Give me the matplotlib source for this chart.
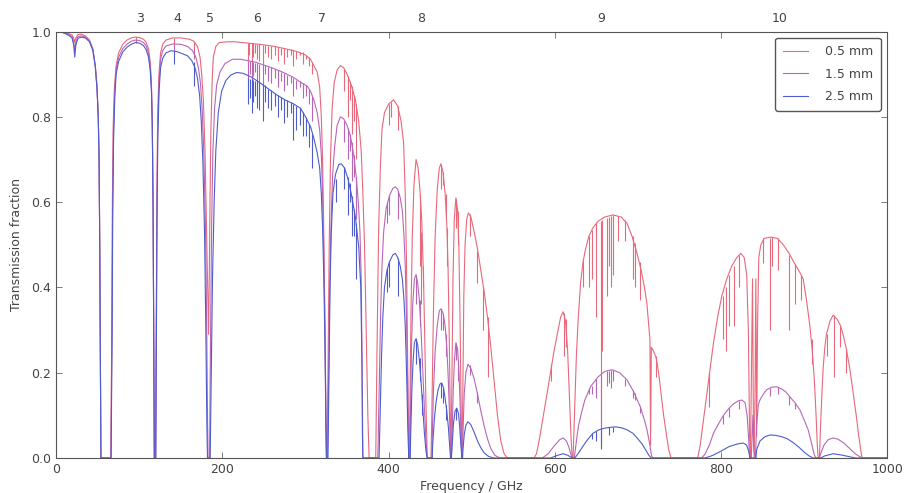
import numpy as np
import matplotlib
matplotlib.use("Agg")
import matplotlib.pyplot as plt

# ----- data: atmospheric transmission -----
# (frequency GHz, transmission) envelope points for each PWV
curve_05 = [
    (0, 1.0), (5, 0.999), (10, 0.998), (15, 0.995), (19, 0.992), (21, 0.985), (22.2, 0.975), (23.5, 0.985),
    (26, 0.993), (30, 0.994), (35, 0.99), (40, 0.98), (44, 0.96), (47, 0.92), (49, 0.87), (50.5, 0.80),
    (51.5, 0.70), (52.3, 0.50), (53, 0.25), (53.7, 0.0), (65.5, 0.0),
    (66.8, 0.3), (67.5, 0.6), (68.5, 0.78), (70, 0.87), (72, 0.92), (75, 0.95), (80, 0.97), (85, 0.98),
    (90, 0.985), (95, 0.987), (100, 0.986), (105, 0.982), (108, 0.975), (111, 0.96), (113, 0.93),
    (114.5, 0.88), (115.5, 0.80), (116.5, 0.60), (117.3, 0.30), (118, 0.0), (119.5, 0.0),
    (120.3, 0.3), (121, 0.6), (122, 0.8), (123.5, 0.9), (125.5, 0.95), (128, 0.97), (132, 0.98), (140, 0.985),
    (150, 0.985), (160, 0.982), (165, 0.978), (170, 0.965), (173, 0.94), (175, 0.90), (177, 0.84), (179, 0.72),
    (181, 0.52), (182.5, 0.36), (183.3, 0.29), (184, 0.40), (185, 0.60), (186, 0.76), (187.5, 0.88), (189, 0.94),
    (192, 0.965), (196, 0.974), (205, 0.976), (215, 0.976), (230, 0.973), (245, 0.97), (260, 0.966), (275, 0.96),
    (290, 0.953), (300, 0.945), (306, 0.935), (310, 0.92), (314, 0.905), (317, 0.87), (319, 0.80), (320.5, 0.70),
    (322, 0.52), (323.5, 0.30), (324.5, 0.1), (325.2, 0.0), (325.8, 0.0),
    (327, 0.2), (328.5, 0.5), (330, 0.7), (332, 0.82), (334.5, 0.88), (338, 0.91), (342, 0.92), (346, 0.915),
    (350, 0.90), (355, 0.875), (360, 0.84), (364, 0.79), (367, 0.72), (369, 0.62), (371, 0.50), (373, 0.30),
    (375, 0.10), (376.5, 0.0), (384.5, 0.0),
    (386, 0.25), (388, 0.54), (390, 0.68), (392, 0.77), (395, 0.81), (400, 0.83), (406, 0.84), (411, 0.825),
    (415, 0.79), (418, 0.74), (420, 0.62), (421.5, 0.46), (423, 0.22), (424.3, 0.0), (425, 0.0),
    (425.5, 0.1), (427, 0.35), (428.5, 0.52), (430.5, 0.64), (433, 0.70), (435.5, 0.68), (438, 0.62), (440, 0.55),
    (442, 0.42), (443.5, 0.28), (445, 0.12), (446.5, 0.0), (451, 0.0),
    (452, 0.1), (454, 0.35), (456, 0.52), (458.5, 0.63), (461, 0.68), (463, 0.69), (465.5, 0.67), (468, 0.62),
    (470, 0.55), (471.5, 0.45), (473, 0.28), (474.3, 0.08), (475, 0.0),
    (476, 0.15), (477.5, 0.42), (479, 0.56), (481, 0.61), (483, 0.58), (484.5, 0.50), (486, 0.32), (487.5, 0.08),
    (488.3, 0.0),
    (489.3, 0.15), (490.5, 0.38), (492, 0.50), (494, 0.56), (496, 0.575), (499, 0.565), (503, 0.53), (507, 0.49),
    (511, 0.44), (515, 0.39), (519, 0.33), (523, 0.26), (527, 0.18), (531, 0.10), (535, 0.04), (539, 0.01),
    (543, 0.0), (575, 0.0),
    (578, 0.01), (582, 0.05), (588, 0.12), (594, 0.19), (599, 0.25), (603, 0.29), (607, 0.33), (610, 0.343),
    (613, 0.32), (615.5, 0.25), (617.5, 0.15), (619.5, 0.05), (621, 0.0), (622, 0.0),
    (624, 0.12), (626, 0.24), (628, 0.32), (631, 0.41), (634, 0.46), (637, 0.49), (641, 0.52), (646, 0.54),
    (652, 0.555), (660, 0.565), (670, 0.57), (680, 0.565), (687, 0.55), (693, 0.52), (699, 0.48), (704, 0.44),
    (708, 0.40), (711, 0.36), (713.5, 0.30), (714.5, 0.28), (715.3, 0.03), (716.2, 0.26), (719, 0.25),
    (722, 0.235), (725, 0.20), (728, 0.15), (731, 0.10), (734, 0.06), (737, 0.02), (740, 0.0), (772, 0.0),
    (775, 0.03), (779, 0.09), (783, 0.15), (787, 0.21), (791, 0.27), (796, 0.33), (801, 0.38), (807, 0.42),
    (813, 0.45), (819, 0.47), (824, 0.48), (828, 0.47), (831, 0.43), (833, 0.30), (834.5, 0.05), (835.5, 0.0),
    (837, 0.25), (838, 0.42), (839, 0.1), (840, 0.0), (841, 0.15), (842, 0.42), (843, 0.05), (844, 0.3),
    (845.5, 0.47), (848, 0.50), (852, 0.515), (860, 0.518), (868, 0.515), (875, 0.50), (882, 0.48),
    (889, 0.455), (895, 0.435), (899, 0.42), (903, 0.37), (907, 0.31), (910, 0.25), (912.5, 0.18),
    (914.5, 0.10), (916, 0.03), (917, 0.0), (918.5, 0.0),
    (920, 0.08), (921.5, 0.15), (923, 0.21), (925, 0.26), (927, 0.29), (931, 0.32), (935, 0.335), (940, 0.325),
    (944, 0.31), (947, 0.29), (951, 0.255), (955, 0.21), (959, 0.155), (963, 0.097), (966, 0.05),
    (968.5, 0.015), (970, 0.0), (1000, 0.0),
]

curve_15 = [
    (0, 1.0), (5, 0.999), (10, 0.997), (15, 0.993), (19, 0.988), (21, 0.975), (22.2, 0.955), (23.5, 0.975),
    (26, 0.988), (30, 0.99), (35, 0.987), (40, 0.978), (44, 0.958), (47, 0.918), (49, 0.868), (50.5, 0.80),
    (51.5, 0.70), (52.3, 0.50), (53, 0.25), (53.7, 0.0), (65.7, 0.0),
    (67, 0.3), (67.7, 0.58), (68.7, 0.76), (70.2, 0.86), (72, 0.91), (75, 0.94), (80, 0.96), (85, 0.97),
    (90, 0.977), (95, 0.98), (100, 0.979), (105, 0.974), (108, 0.967), (111, 0.95), (113, 0.92), (114.5, 0.87),
    (115.5, 0.79), (116.5, 0.59), (117.3, 0.29), (118, 0.0), (119.6, 0.0),
    (120.4, 0.3), (121.1, 0.58), (122.1, 0.78), (123.6, 0.88), (125.5, 0.935), (128, 0.955), (132, 0.966),
    (140, 0.971), (150, 0.97), (158, 0.965), (164, 0.955), (168, 0.94), (171, 0.915), (173.5, 0.88),
    (175.5, 0.82), (177.5, 0.72), (179.5, 0.55), (181, 0.32), (182, 0.1), (182.7, 0.0), (184.5, 0.0),
    (185.5, 0.25), (187, 0.55), (188.5, 0.72), (190.5, 0.82), (193, 0.875), (197, 0.905), (203, 0.925),
    (212, 0.935), (222, 0.935), (240, 0.928), (255, 0.918), (270, 0.907), (285, 0.893), (295, 0.88),
    (302, 0.872), (306, 0.86), (310, 0.84), (314, 0.81), (317, 0.77), (319, 0.71), (320.5, 0.62), (322, 0.48),
    (323.5, 0.28), (324.5, 0.09), (325.2, 0.0), (326.3, 0.0),
    (327.5, 0.15), (329, 0.38), (330.5, 0.54), (332.5, 0.66), (335, 0.73), (338, 0.78), (342, 0.80),
    (346, 0.795), (350, 0.78), (354, 0.755), (358, 0.71), (361, 0.66), (363.5, 0.60), (365.5, 0.53),
    (367, 0.42), (368.2, 0.2), (369, 0.0), (387, 0.0),
    (387.5, 0.05), (389, 0.2), (390.5, 0.35), (392, 0.45), (394, 0.53), (397, 0.585), (401, 0.615), (405, 0.632),
    (408, 0.636), (411, 0.63), (414, 0.61), (416.5, 0.58), (418.5, 0.52), (420, 0.45), (421.5, 0.33),
    (423, 0.16), (424.2, 0.0), (425.5, 0.0),
    (426.3, 0.1), (427.5, 0.26), (429, 0.36), (431, 0.42), (433, 0.43), (435, 0.41), (437, 0.37), (439, 0.30),
    (441, 0.21), (443, 0.12), (445, 0.04), (446.5, 0.0), (452, 0.0),
    (452.5, 0.05), (454, 0.16), (456, 0.25), (458.5, 0.31), (461, 0.345), (463, 0.35), (465.5, 0.34), (468, 0.31),
    (470, 0.26), (471.5, 0.20), (473, 0.12), (474.3, 0.03), (475.5, 0.0),
    (476.5, 0.06), (477.8, 0.16), (479.2, 0.23), (481, 0.27), (483, 0.255), (484.5, 0.21), (486, 0.13),
    (487.5, 0.03), (488.5, 0.0),
    (489.5, 0.06), (491, 0.15), (493, 0.2), (495.5, 0.22), (499, 0.21), (503, 0.185), (507, 0.15), (511, 0.11),
    (515, 0.075), (519, 0.045), (523, 0.022), (528, 0.006), (534, 0.0), (585, 0.0),
    (592, 0.01), (600, 0.03), (606, 0.043), (610, 0.047), (614, 0.04), (617, 0.025), (619.5, 0.008),
    (621, 0.0), (623.5, 0.0),
    (626, 0.04), (628.5, 0.075), (631, 0.097), (636, 0.135), (643, 0.167), (652, 0.19), (660, 0.203),
    (669, 0.207), (678, 0.2), (687, 0.183), (695, 0.155), (703, 0.12), (708, 0.088), (711, 0.066),
    (714, 0.035), (716.5, 0.005), (718, 0.0), (777, 0.0),
    (781, 0.01), (786, 0.03), (791, 0.058), (797, 0.08), (803, 0.1), (809, 0.115), (815, 0.127), (821, 0.134),
    (825, 0.136), (829, 0.13), (831.5, 0.1), (833.5, 0.04), (834.5, 0.0), (836.5, 0.0),
    (837.5, 0.05), (838.5, 0.10), (839.5, 0.02), (841.5, 0.0), (843, 0.08), (845, 0.125), (847, 0.136),
    (851, 0.15), (855, 0.16), (861, 0.166), (867, 0.167), (873, 0.162), (878, 0.155), (883, 0.143), (889, 0.13),
    (895, 0.113), (900, 0.09), (905, 0.066), (909, 0.035), (912, 0.01), (914, 0.0), (918.5, 0.0),
    (920, 0.01), (924, 0.03), (929, 0.043), (935, 0.047), (941, 0.044), (948, 0.035), (955, 0.022),
    (961, 0.011), (967, 0.003), (970, 0.0), (1000, 0.0),
]

curve_25 = [
    (0, 1.0), (5, 0.999), (10, 0.996), (15, 0.991), (19, 0.985), (21, 0.968), (22.2, 0.94), (23.5, 0.968),
    (26, 0.984), (30, 0.987), (35, 0.985), (40, 0.976), (44, 0.956), (47, 0.916), (49, 0.866), (50.5, 0.80),
    (51.5, 0.70), (52.3, 0.50), (53, 0.25), (53.7, 0.0), (66, 0.0),
    (67.2, 0.3), (67.9, 0.56), (68.9, 0.74), (70.4, 0.845), (72, 0.90), (75, 0.93), (80, 0.952), (85, 0.963),
    (90, 0.97), (95, 0.974), (100, 0.973), (105, 0.967), (108, 0.958), (111, 0.94), (113, 0.91), (114.5, 0.86),
    (115.5, 0.78), (116.5, 0.58), (117.3, 0.28), (118, 0.0), (119.7, 0.0),
    (120.5, 0.28), (121.2, 0.55), (122.2, 0.75), (123.7, 0.86), (125.5, 0.915), (128, 0.937), (132, 0.95),
    (138, 0.955), (145, 0.953), (152, 0.948), (158, 0.943), (163, 0.932), (167, 0.915), (170, 0.89),
    (172.5, 0.85), (174.5, 0.79), (176.5, 0.69), (178.5, 0.52), (180, 0.3), (181.2, 0.08), (182, 0.0),
    (185.2, 0.0),
    (186.5, 0.2), (188, 0.42), (190, 0.6), (192, 0.72), (195, 0.81), (199, 0.86), (204, 0.885), (210, 0.898),
    (217, 0.904), (225, 0.902), (235, 0.893), (245, 0.88), (255, 0.866), (265, 0.852), (275, 0.84), (285, 0.831),
    (294, 0.82), (300, 0.80), (306, 0.777), (310, 0.75), (314, 0.716), (317, 0.68), (319, 0.62), (320.5, 0.54),
    (322, 0.42), (323.5, 0.25), (324.5, 0.08), (325.2, 0.0), (327, 0.0),
    (328.2, 0.2), (329.5, 0.40), (331, 0.53), (333, 0.62), (336, 0.665), (340, 0.688), (343, 0.69), (347, 0.68),
    (351, 0.655), (355, 0.62), (360, 0.565), (364, 0.495), (366.5, 0.40), (367.8, 0.23), (368.5, 0.05),
    (369, 0.0), (388.5, 0.0),
    (390, 0.12), (391.5, 0.24), (393, 0.33), (395, 0.40), (398, 0.44), (401, 0.46), (405, 0.476), (408, 0.48),
    (411, 0.47), (414, 0.45), (416.5, 0.42), (418.5, 0.37), (420, 0.31), (421.5, 0.21), (423, 0.08),
    (424.2, 0.0), (426, 0.0),
    (426.5, 0.05), (428, 0.16), (429.5, 0.23), (431, 0.27), (433, 0.28), (435, 0.265), (437, 0.23), (439, 0.18),
    (441, 0.12), (443, 0.06), (445, 0.015), (446.5, 0.0), (452.5, 0.0),
    (453, 0.03), (455, 0.09), (457, 0.13), (459.5, 0.16), (462, 0.174), (464, 0.176), (466, 0.165), (468, 0.14),
    (470, 0.11), (472, 0.07), (473.5, 0.03), (474.5, 0.0), (475.5, 0.0),
    (476.5, 0.03), (478, 0.08), (480, 0.11), (482, 0.117), (484, 0.105), (485.5, 0.075), (487, 0.03),
    (488.2, 0.0), (489, 0.0),
    (489.5, 0.02), (491, 0.055), (493, 0.077), (495.5, 0.085), (499, 0.078), (503, 0.06), (507, 0.04),
    (511, 0.024), (515, 0.012), (520, 0.004), (526, 0.0), (595, 0.0),
    (603, 0.006), (610, 0.01), (616, 0.006), (621, 0.0), (624, 0.0),
    (628, 0.01), (633, 0.025), (639, 0.042), (646, 0.058), (653, 0.066), (660, 0.07), (667, 0.072), (673, 0.073),
    (680, 0.071), (687, 0.066), (694, 0.058), (700, 0.045), (705, 0.033), (709, 0.02), (713, 0.007),
    (716, 0.0), (781, 0.0),
    (790, 0.006), (800, 0.016), (810, 0.027), (820, 0.033), (827, 0.035), (831, 0.03), (833.5, 0.015),
    (835, 0.0), (842, 0.0),
    (843, 0.02), (847, 0.04), (853, 0.05), (859, 0.054), (866, 0.053), (873, 0.05), (880, 0.045), (887, 0.036),
    (894, 0.025), (900, 0.014), (906, 0.005), (911, 0.0), (920, 0.0),
    (925, 0.005), (935, 0.01), (945, 0.007), (955, 0.003), (962, 0.0), (1000, 0.0),
]

# narrow absorption lines: (frequency GHz, bottom, top)
lines_05 = [
    (96.5, 0.974, 0.987), (142, 0.967, 0.985), (165.5, 0.955, 0.978),
    (231, 0.93, 0.973), (232.5, 0.945, 0.973), (235.5, 0.925, 0.972), (237, 0.94, 0.972), (239, 0.95, 0.971),
    (242, 0.935, 0.971), (244.5, 0.93, 0.97), (249, 0.925, 0.969), (251.5, 0.95, 0.968), (255, 0.94, 0.967),
    (258.5, 0.935, 0.966), (263, 0.945, 0.965), (267, 0.93, 0.964), (271, 0.945, 0.962), (274, 0.925, 0.961),
    (278, 0.94, 0.96), (282, 0.945, 0.958), (285.5, 0.92, 0.957), (289, 0.935, 0.955), (293, 0.945, 0.953),
    (296.5, 0.925, 0.951), (300.5, 0.935, 0.945), (304, 0.92, 0.94), (308, 0.90, 0.928),
    (346.5, 0.86, 0.913), (351, 0.80, 0.895), (353.5, 0.84, 0.885), (355.5, 0.76, 0.872), (358, 0.79, 0.85),
    (361, 0.70, 0.83), (400.5, 0.78, 0.83), (403, 0.80, 0.835), (411.5, 0.77, 0.825),
    (437.5, 0.45, 0.62), (439.5, 0.36, 0.53), (441.5, 0.40, 0.45),
    (462.5, 0.63, 0.688), (465, 0.64, 0.67), (468.5, 0.56, 0.62), (470.5, 0.45, 0.54),
    (481.5, 0.54, 0.608), (483.5, 0.50, 0.58),
    (497.5, 0.52, 0.572), (506, 0.41, 0.485), (513, 0.30, 0.40), (519.5, 0.19, 0.33),
    (596, 0.18, 0.22), (611.5, 0.24, 0.34), (613.5, 0.26, 0.325),
    (634, 0.40, 0.465), (641.5, 0.40, 0.52), (645, 0.42, 0.535), (650, 0.33, 0.55), (655.5, 0.066, 0.555),
    (657, 0.25, 0.558), (663, 0.38, 0.563), (665, 0.45, 0.565), (667.5, 0.40, 0.567), (670.5, 0.43, 0.57),
    (676, 0.51, 0.568), (685, 0.51, 0.557), (694, 0.42, 0.52), (696.5, 0.40, 0.505), (702.5, 0.37, 0.46),
    (721.5, 0.19, 0.24),
    (786, 0.12, 0.20), (803, 0.28, 0.38), (806, 0.25, 0.40), (810, 0.31, 0.43), (815.5, 0.31, 0.45),
    (822, 0.40, 0.475), (851, 0.457, 0.515), (859, 0.30, 0.517), (862, 0.45, 0.518), (869, 0.44, 0.516),
    (882.5, 0.30, 0.475), (889, 0.36, 0.455), (896, 0.37, 0.43), (909, 0.22, 0.28),
    (927.5, 0.24, 0.29), (936, 0.19, 0.335), (943.5, 0.26, 0.31), (951, 0.20, 0.255),
]

lines_15 = [
    (142, 0.955, 0.971), (165.5, 0.935, 0.96),
    (231, 0.885, 0.93), (233, 0.90, 0.93), (235.5, 0.875, 0.929), (237, 0.895, 0.928), (239.5, 0.905, 0.927),
    (242, 0.885, 0.926), (244.5, 0.88, 0.925), (249, 0.875, 0.923), (251.5, 0.90, 0.921), (255, 0.885, 0.918),
    (258.5, 0.88, 0.916), (263, 0.89, 0.913), (267, 0.87, 0.91), (271, 0.885, 0.906), (274, 0.86, 0.903),
    (278, 0.875, 0.899), (282, 0.88, 0.896), (285.5, 0.85, 0.892), (289, 0.865, 0.887), (293, 0.87, 0.883),
    (296.5, 0.845, 0.879), (300.5, 0.85, 0.874), (304, 0.83, 0.865), (308, 0.79, 0.85),
    (346.5, 0.74, 0.79), (351, 0.70, 0.775), (353.5, 0.72, 0.76), (355.5, 0.65, 0.74), (358, 0.66, 0.71),
    (361, 0.56, 0.66), (398.5, 0.55, 0.60), (401, 0.57, 0.615), (411.5, 0.56, 0.625),
    (433.5, 0.36, 0.43), (437.5, 0.31, 0.37), (463, 0.30, 0.35), (466, 0.30, 0.338), (469, 0.24, 0.29),
    (481.5, 0.23, 0.27), (484, 0.18, 0.22), (497.5, 0.195, 0.218), (506, 0.13, 0.155),
    (641.5, 0.15, 0.165), (645, 0.15, 0.17), (650, 0.14, 0.185), (655.5, 0.03, 0.195), (663, 0.17, 0.204),
    (665, 0.175, 0.205), (667.5, 0.165, 0.206), (670.5, 0.18, 0.207), (685, 0.17, 0.186), (694, 0.14, 0.16),
    (696.5, 0.135, 0.152), (702.5, 0.105, 0.12),
    (803, 0.08, 0.10), (810, 0.095, 0.117), (822, 0.115, 0.134), (859, 0.145, 0.165), (869, 0.15, 0.166),
    (882.5, 0.125, 0.145), (889, 0.115, 0.13),
]

lines_25 = [
    (142, 0.925, 0.955), (165.5, 0.873, 0.928),
    (231, 0.83, 0.89), (233, 0.845, 0.889), (235.5, 0.81, 0.888), (237, 0.835, 0.887), (239.5, 0.85, 0.885),
    (242, 0.82, 0.883), (244.5, 0.815, 0.881), (249, 0.79, 0.877), (251.5, 0.835, 0.875), (255, 0.82, 0.866),
    (258.5, 0.815, 0.862), (263, 0.825, 0.856), (267, 0.80, 0.851), (271, 0.815, 0.847), (274, 0.785, 0.843),
    (278, 0.80, 0.839), (282, 0.81, 0.835), (285.5, 0.745, 0.831), (289, 0.77, 0.826), (293, 0.78, 0.82),
    (296.5, 0.755, 0.812), (300.5, 0.755, 0.80), (304, 0.73, 0.783), (308, 0.68, 0.76),
    (336.5, 0.60, 0.655), (346.5, 0.63, 0.683), (351, 0.57, 0.66), (353.5, 0.60, 0.645), (355.5, 0.52, 0.615),
    (358, 0.52, 0.585), (361, 0.42, 0.55), (398.5, 0.39, 0.445), (401, 0.40, 0.46), (411.5, 0.38, 0.468),
    (433.5, 0.22, 0.278), (437.5, 0.18, 0.235), (440.5, 0.10, 0.15),
    (463, 0.14, 0.175), (466, 0.13, 0.165), (469, 0.09, 0.125), (481.5, 0.09, 0.117),
    (645, 0.045, 0.058), (650, 0.04, 0.063), (655.5, 0.02, 0.066), (665, 0.055, 0.072), (670.5, 0.06, 0.073),
]

labels = ["0.5 mm", "1.5 mm", "2.5 mm"]
colors = ["#e8687c", "#b866b8", "#4e5ccc"]

# ALMA band numbers and their centre frequencies (GHz)
band_names = ["3", "4", "5", "6", "7", "8", "9", "10"]
band_freqs = [101, 146, 185, 242, 320, 439, 656, 870]

# ----- plot -----
txt = "#444444"
plt.rcParams["font.family"] = "DejaVu Sans"
fig = plt.figure(figsize=(9.08, 4.93), dpi=100)
ax = fig.add_axes([0.062, 0.071, 0.915, 0.865])

for curve, lines, lab, col in zip([curve_05, curve_15, curve_25],
                                  [lines_05, lines_15, lines_25], labels, colors):
    f, t = np.array(curve).T
    ax.plot(f, t, color=col, lw=0.8, label=lab)
    lf, lo, hi = np.array(lines).T
    ax.vlines(lf, lo, hi, color=col, lw=0.8)

ax.set_xlim(0, 1000)
ax.set_ylim(0, 1.0)
ax.set_xticks([0, 200, 400, 600, 800, 1000])
ax.set_yticks([0.0, 0.2, 0.4, 0.6, 0.8, 1.0])
ax.yaxis.set_major_formatter(matplotlib.ticker.FormatStrFormatter("%.1f"))
ax.tick_params(direction="in", top=True, right=True, length=4, width=0.6,
               labelsize=9, labelcolor=txt, colors="#666666")
for sp in ax.spines.values():
    sp.set_color("#555555")
    sp.set_linewidth(0.8)

ax.set_xlabel("Frequency / GHz", fontsize=9, color=txt, labelpad=3)
ax.set_ylabel("Transmission fraction", fontsize=9, color=txt, labelpad=6)

for name, bf in zip(band_names, band_freqs):
    ax.text(bf, 1.016, name, transform=ax.get_xaxis_transform(),
            ha="center", va="bottom", fontsize=9, color=txt)

leg = ax.legend(loc="upper right", fontsize=9, handlelength=2.0, handletextpad=1.4,
                labelspacing=0.75, borderpad=0.6, fancybox=True, framealpha=1)
leg.get_frame().set_edgecolor("#555555")
for t in leg.get_texts():
    t.set_color(txt)

fig.savefig("out.png", dpi=100)
